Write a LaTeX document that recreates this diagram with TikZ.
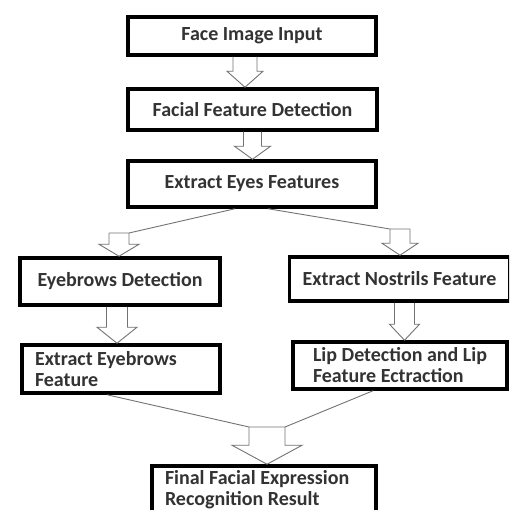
\documentclass[tikz,border=0pt]{standalone}
\usepackage{fontspec}
\setmainfont{Carlito}
\usetikzlibrary{calc,positioning}

\tikzset{
  stage/.style={draw=black,line width=3.5pt,font=\fontsize{20}{21}\selectfont\bfseries,
                text=black!80,inner ysep=0pt,inner xsep=13pt},
  leftbox/.style={stage,align=flush left,text width=#1},
  hollow/.style={draw=black!55,line width=0.9pt,line join=miter},
  feed/.style={draw=black!55,line width=0.9pt}
}

% open block arrow: shaft half width, head half width, head length, from, to
\newcommand{\hollowarrow}[5]{%
  \draw[hollow] let \p1=(#4), \p2=(#5) in
    (\x1-#1,\y1) -- (\x1-#1,\y2+#3) -- (\x1-#2,\y2+#3) -- (\x1,\y2)
    -- (\x1+#2,\y2+#3) -- (\x1+#1,\y2+#3) -- (\x1+#1,\y1);}

\begin{document}
\begin{tikzpicture}[x=1pt,y=-1pt]
  \path[use as bounding box,fill=white] (0,0) rectangle (509,510);
  \clip (0,0) rectangle (509,510);

  % main chain
  \node[stage,minimum width=248pt,minimum height=38pt] (face) at (252,36) {Face Image Input};
  \node[stage,minimum width=249pt,minimum height=41pt] (detect) at (252.5,109.5) {Facial Feature Detection};
  \node[stage,minimum width=248pt,minimum height=46pt] (eyes) at (252,184) {Extract Eyes Features};

  % two branches
  \node[stage,minimum width=200pt,minimum height=47pt] (browdet) at (120,281.5) {Eyebrows Detection};
  \node[stage,minimum width=213pt,minimum height=44pt] (nostril) at (399.5,279) {Extract Nostrils Feature};
  \node[leftbox=172pt,minimum width=198pt,minimum height=48pt] (browfeat) at (121,369) {Extract Eyebrows\\Feature};
  \node[stage,align=flush left,minimum width=214pt,minimum height=47pt] (lip) at (400,365.5) {Lip Detection and Lip\\Feature Ectraction};

  \node[leftbox=198pt,minimum width=208pt,minimum height=48pt] (result) at (264,490) {Final Facial Expression\\Recognition Result};

  \coordinate (lsplit) at (119,233);
  \coordinate (rsplit) at (400,229);
  \coordinate (merge) at (267,427);

  \hollowarrow{12pt}{18pt}{16pt}{$(face.south)+(-7,0)$}{$(detect.north)+(-7,0)$}
  \hollowarrow{9pt}{18pt}{13pt}{detect.south}{eyes.north}

  \draw[feed] ($(eyes.south)+(-17,0)$) -- ($(lsplit)+(10,0)$) -- ($(lsplit)+(-10,0)$);
  \draw[feed] ($(eyes.south)+(16,0)$) -- ($(rsplit)+(-10,0)$) -- ($(rsplit)+(10,0)$);
  \hollowarrow{10pt}{20pt}{12pt}{lsplit}{browdet.north -| lsplit}
  \hollowarrow{10pt}{18pt}{12pt}{rsplit}{nostril.north -| rsplit}

  \hollowarrow{10.5pt}{20pt}{16pt}{$(browdet.south)+(-3,0)$}{$(browfeat.north)+(-4,0)$}
  \hollowarrow{10pt}{15pt}{16pt}{$(nostril.south)+(5,0)$}{$(lip.north)+(5,0)$}

  \draw[feed] ($(browfeat.south)+(-14,0)$) -- ($(merge)+(-18,0)$) -- ($(merge)+(18,0)$) -- ($(lip.south)+(-27,0)$);
  \hollowarrow{18pt}{35pt}{19pt}{merge}{result.north -| merge}
\end{tikzpicture}
\end{document}
